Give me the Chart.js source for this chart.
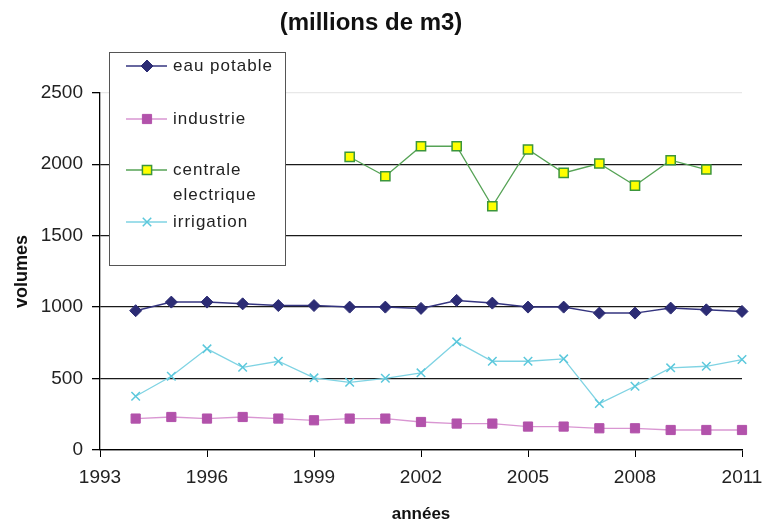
<!DOCTYPE html>
<html>
<head>
<meta charset="utf-8">
<script src="https://cdn.jsdelivr.net/npm/chart.js@4.4.1/dist/chart.umd.min.js"></script>
<style>
  body { margin: 0; background: #fff; }
  #wrap { width: 762px; height: 523px; }
</style>
</head>
<body>
<div id="wrap"><canvas id="myChart" width="762" height="523"></canvas></div>
<script>
const years = [1994, 1995, 1996, 1997, 1998, 1999, 2000, 2001, 2002, 2003, 2004, 2005, 2006, 2007, 2008, 2009, 2010, 2011];
const eauPotable = [975, 1035, 1035, 1023, 1011, 1011, 1000, 1000, 991, 1047, 1028, 1000, 1000, 958, 958, 993, 981, 970];
const industrie = [220, 231, 220, 231, 220, 208, 220, 220, 196, 185, 185, 164, 164, 152, 152, 140, 140, 140];
const centrale = [null, null, null, null, null, null, 2051, 1916, 2126, 2126, 1706, 2103, 1939, 2005, 1851, 2028, 1963, null];
const irrigation = [376, 516, 708, 579, 621, 505, 474, 502, 540, 757, 621, 621, 638, 325, 446, 575, 586, 633];
const yTicks = [0, 500, 1000, 1500, 2000, 2500];
const legendRows = [["eau potable"], ["industrie"], ["centrale", "electrique"], ["irrigation"]];

const toPoints = arr => years.map((y, i) => ({ x: y, y: arr[i] }));

// legend box drawn inside the plot, like the original
const legendBox = {
  id: "legendBox",
  afterDraw(chart) {
    const ctx = chart.ctx;
    const rowY = [66, 119, 170, 222];
    ctx.save();
    ctx.fillStyle = "#fff";
    ctx.fillRect(109.5, 52.5, 176, 213);
    ctx.strokeStyle = "#555";
    ctx.lineWidth = 1;
    ctx.strokeRect(109.5, 52.5, 176, 213);
    chart.data.datasets.forEach((ds, i) => {
      const y = rowY[i];
      ctx.strokeStyle = ds.borderColor;
      ctx.lineWidth = ds.borderWidth;
      ctx.beginPath();
      ctx.moveTo(126, y);
      ctx.lineTo(167, y);
      ctx.stroke();
      ctx.fillStyle = ds.pointBackgroundColor;
      ctx.strokeStyle = ds.pointBorderColor;
      ctx.lineWidth = ds.pointBorderWidth;
      Chart.helpers.drawPoint(ctx, {
        pointStyle: ds.pointStyle,
        radius: ds.pointRadius,
        borderWidth: ds.pointBorderWidth,
        rotation: 0
      }, 147, y);
      ctx.fillStyle = "#222";
      ctx.font = "17px 'Liberation Sans', Arial, sans-serif";
      ctx.letterSpacing = "1px";
      ctx.textBaseline = "middle";
      legendRows[i].forEach((t, j) => ctx.fillText(t, 173, y + j * 25));
    });
    ctx.restore();
  }
};

const ctx = document.getElementById("myChart").getContext("2d");

new Chart(ctx, {
  type: "line",
  data: {
    datasets: [
      {
        label: "eau potable",
        data: toPoints(eauPotable),
        borderColor: "#34347f",
        borderWidth: 1.5,
        pointStyle: "rectRot",
        pointRadius: 6,
        pointBackgroundColor: "#2c2c74",
        pointBorderColor: "#2c2c74",
        pointBorderWidth: 1
      },
      {
        label: "industrie",
        data: toPoints(industrie),
        borderColor: "#d996d2",
        borderWidth: 1.3,
        pointStyle: "rect",
        pointRadius: 6.5,
        pointBackgroundColor: "#b252ab",
        pointBorderColor: "#b252ab",
        pointBorderWidth: 1
      },
      {
        label: "centrale electrique",
        data: toPoints(centrale),
        borderColor: "#56a356",
        borderWidth: 1.3,
        pointStyle: "rect",
        pointRadius: 6.5,
        pointBackgroundColor: "#ffff00",
        pointBorderColor: "#3c963c",
        pointBorderWidth: 1.5
      },
      {
        label: "irrigation",
        data: toPoints(irrigation),
        borderColor: "#7fd3e3",
        borderWidth: 1.3,
        pointStyle: "crossRot",
        pointRadius: 6,
        pointBackgroundColor: "#5bc8dc",
        pointBorderColor: "#5bc8dc",
        pointBorderWidth: 1.5
      }
    ]
  },
  options: {
    responsive: false,
    animation: false,
    layout: { padding: { left: 0, right: 20, top: 0, bottom: 0 } },
    elements: { line: { tension: 0 } },
    datasets: { line: { clip: false, spanGaps: false } },
    plugins: {
      legend: { display: false },
      tooltip: { enabled: false },
      title: {
        display: true,
        text: "(millions de m3)",
        color: "#111",
        font: { family: "'Liberation Sans', Arial, sans-serif", size: 24, weight: "bold" },
        padding: { top: 9, bottom: 55 }
      }
    },
    scales: {
      x: {
        type: "linear",
        min: 1993,
        max: 2011,
        afterFit(scale) {
          scale.height = 73;
          scale.paddingLeft = 0;
          scale.paddingRight = 0;
        },
        ticks: {
          stepSize: 3,
          color: "#222",
          padding: 9,
          font: { family: "'Liberation Sans', Arial, sans-serif", size: 19 },
          callback: v => String(v)
        },
        grid: { drawOnChartArea: false, tickLength: 7, tickColor: "#000" },
        border: { color: "#000", width: 1.3 },
        title: {
          display: true,
          text: "années",
          color: "#111",
          font: { family: "'Liberation Sans', Arial, sans-serif", size: 17, weight: "bold", lineHeight: 1 },
          padding: { top: 0, bottom: 0 }
        }
      },
      y: {
        min: 0,
        max: 2500,
        afterFit(scale) { scale.width = 100; },
        afterBuildTicks(scale) { scale.ticks = yTicks.map(v => ({ value: v })); },
        ticks: {
          color: "#222",
          padding: 9,
          font: { family: "'Liberation Sans', Arial, sans-serif", size: 19 },
          callback: v => String(v)
        },
        grid: {
          color: c => (c.tick && c.tick.value === 2500 ? "#e8e8e8" : "#1a1a1a"),
          lineWidth: 1.3,
          tickLength: 8,
          tickColor: "#000"
        },
        border: { color: "#000", width: 1.3 },
        title: {
          display: true,
          text: "volumes",
          color: "#111",
          font: { family: "'Liberation Sans', Arial, sans-serif", size: 18, weight: "bold" },
          padding: { top: 11, bottom: 0 }
        }
      }
    }
  },
  plugins: [legendBox]
});
</script>
</body>
</html>
